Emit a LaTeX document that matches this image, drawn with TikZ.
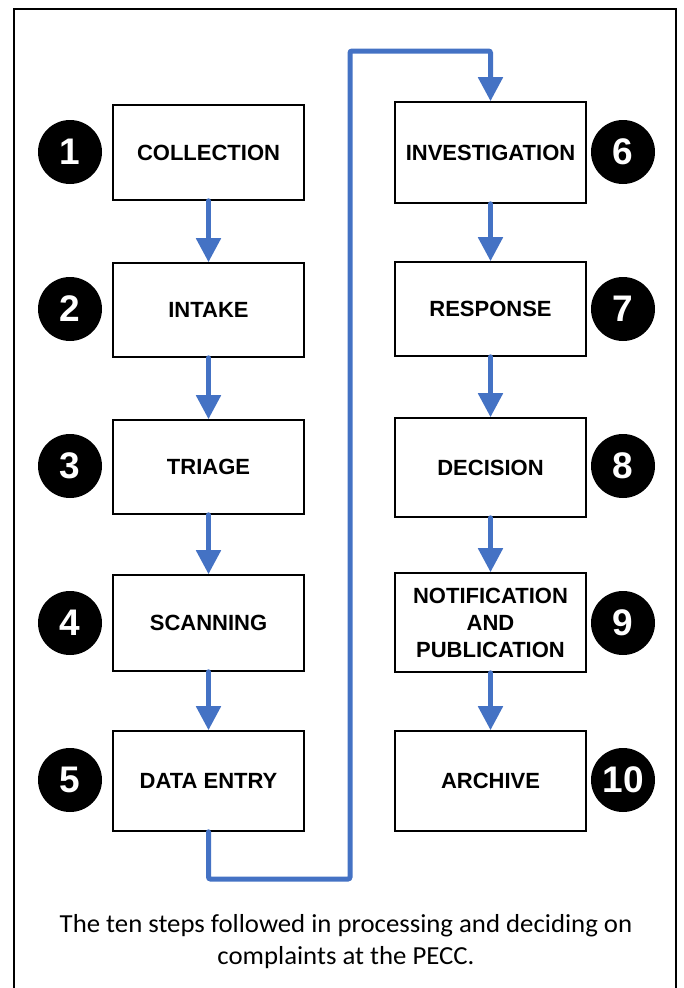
\documentclass[tikz,border=0pt]{standalone}
\usepackage{fontspec}
\setmainfont{Liberation Sans}
\newfontfamily\capfont{Carlito}
\usetikzlibrary{arrows.meta}
\definecolor{flowblue}{HTML}{4472C4}
\begin{document}
\begin{tikzpicture}[x=1pt,y=-1pt,
  stepbox/.style={draw, line width=1.6pt, minimum width=191pt, align=center, inner sep=0pt,
    font=\bfseries\fontsize{22}{27}\selectfont},
  numcirc/.style={circle, fill=black, minimum size=64pt, inner sep=0pt, text=white,
    font=\bfseries\fontsize{37}{37}\selectfont},
  flow/.style={draw=flowblue, line width=5pt, line cap=round, rounded corners=2pt,
    -{Triangle[width=24pt,length=24pt]}}
]
\useasboundingbox (0,0) rectangle (683,988);
\draw[line width=1.3pt] (14,995) -- (14,9) -- (676,9) -- (676,995);

% left column
\node[stepbox, minimum height=95pt]  (b1) at (208.5,152.5) {COLLECTION};
\node[stepbox, minimum height=94pt]  (b2) at (208.5,310) {INTAKE};
\node[stepbox, minimum height=94pt]  (b3) at (208.5,467) {TRIAGE};
\node[stepbox, minimum height=96pt]  (b4) at (208.5,623) {SCANNING};
\node[stepbox, minimum height=100pt] (b5) at (208.5,781) {DATA ENTRY};
% right column
\node[stepbox, minimum height=101pt] (b6) at (490.5,152.5) {INVESTIGATION};
\node[stepbox, minimum height=94pt]  (b7) at (490.5,309) {RESPONSE};
\node[stepbox, minimum height=99pt]  (b8) at (490.5,467.5) {DECISION};
\node[stepbox, minimum height=99pt]  (b9) at (490.5,622.5) {NOTIFICATION\\AND\\PUBLICATION};
\node[stepbox, minimum height=100pt] (b10) at (490.5,781) {ARCHIVE};

% number circles
\node[numcirc] (n1) at (70,152) {1};
\node[numcirc] (n2) at (70,309) {2};
\node[numcirc] (n3) at (70,466) {3};
\node[numcirc] (n4) at (70,623) {4};
\node[numcirc] (n5) at (70,780) {5};
\node[numcirc] (n6) at (623,152) {6};
\node[numcirc] (n7) at (623,309) {7};
\node[numcirc] (n8) at (623,466) {8};
\node[numcirc] (n9) at (623,623) {9};
\node[numcirc] (n10) at (623,780) {10};

% connectors
\draw[flow] (b1.south) -- (b2.north);
\draw[flow] (b2.south) -- (b3.north);
\draw[flow] (b3.south) -- (b4.north);
\draw[flow] (b4.south) -- (b5.north);
\draw[flow] (b6.south) -- (b7.north);
\draw[flow] (b7.south) -- (b8.north);
\draw[flow] (b8.south) -- (b9.north);
\draw[flow] (b9.south) -- (b10.north);
\coordinate (c2) at (350,879);
\coordinate (c3) at (350,51);
\draw[flow] (b5.south) |- (c2) -- (c3) -| (b6.north);

% caption
\node[align=center, xscale=1.03, font=\capfont\fontsize{26}{32}\selectfont] (cap) at (346,942)
  {The ten steps followed in processing and deciding on\\complaints at the PECC.};
\end{tikzpicture}
\end{document}
